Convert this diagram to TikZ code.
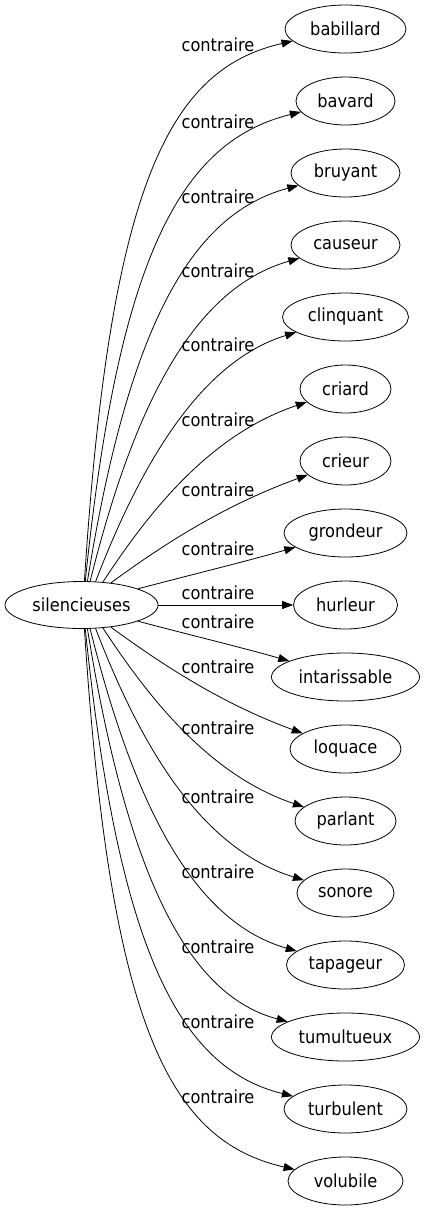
\documentclass[tikz,border=0pt]{standalone}
\usepackage{fontspec}
\setmainfont{DejaVu Sans Condensed}
\usetikzlibrary{shapes.geometric,arrows.meta}
\begin{document}
\begin{tikzpicture}[x=1pt,y=-1pt,
  font=\fontsize{18}{21}\selectfont,
  src/.style={ellipse, draw, line width=0.8pt, inner sep=0pt, minimum height=47pt, minimum width=153pt},
  tgt/.style={ellipse, draw, line width=0.8pt, inner sep=0pt, minimum height=48pt, minimum width=#1},
  lab/.style={inner sep=0pt},
  edgeline/.style={line width=0.8pt, -{Triangle[length=11pt,width=8pt]}}]
\useasboundingbox (0,0) rectangle (424,1211);
\node[src] (s) at (81.5,605) {silencieuses};
\foreach \n/\yt/\w/\ly/\sx/\pax/\rise/\pbx/\off in {
  babillard/29/121/45/84/110/423/170/40,
  bavard/101/99/122/85/118/342/178/41,
  bruyant/173/109/197/87/127/269/187/42,
  causeur/245/109/271/90/135/204/195/43,
  clinquant/317/126/345/95/143/147/203/44,
  criard/389/91/420/102/152/98/212/45,
  crieur/461/91/490/110/160/58/220/46,
  grondeur/533/123/549/137/190/30/240/30,
  intarissable/677/148/622/137/190/30/240/30,
  loquace/749/111/667/110/160/58/220/46,
  parlant/821/101/728/102/152/98/212/45,
  sonore/893/97/797/95/143/147/203/44,
  tapageur/965/118/872/90/135/204/195/43,
  tumultueux/1037/148/947/87/127/269/187/42,
  turbulent/1109/123/1022/85/118/342/178/41,
  volubile/1181/115/1097/84/110/423/170/40}{
  \node[tgt=\w pt] (t-\n) at (345.5,\yt) {\n};
  \node[lab] (l-\n) at (218,\ly) {contraire};
  \pgfmathsetmacro\sg{\yt<605 ? 1 : -1}
  \pgfmathsetmacro\dx{\sx-81.5}
  \pgfmathsetmacro\ang{\sg*atan2(23.5*sqrt(1-(\dx/76.5)^2),\dx)}
  \pgfmathsetmacro\pay{605-\sg*\rise}
  \pgfmathsetmacro\pby{\yt+\sg*\off}
  \draw[edgeline] (s.\ang) .. controls (\pax,\pay) and (\pbx,\pby) .. (t-\n);
}
\node[tgt=104pt] (t-hurleur) at (345.5,605) {hurleur};
\node[lab] (l-hurleur) at (218,593) {contraire};
\draw[edgeline] (s) -- (t-hurleur);
\end{tikzpicture}
\end{document}
